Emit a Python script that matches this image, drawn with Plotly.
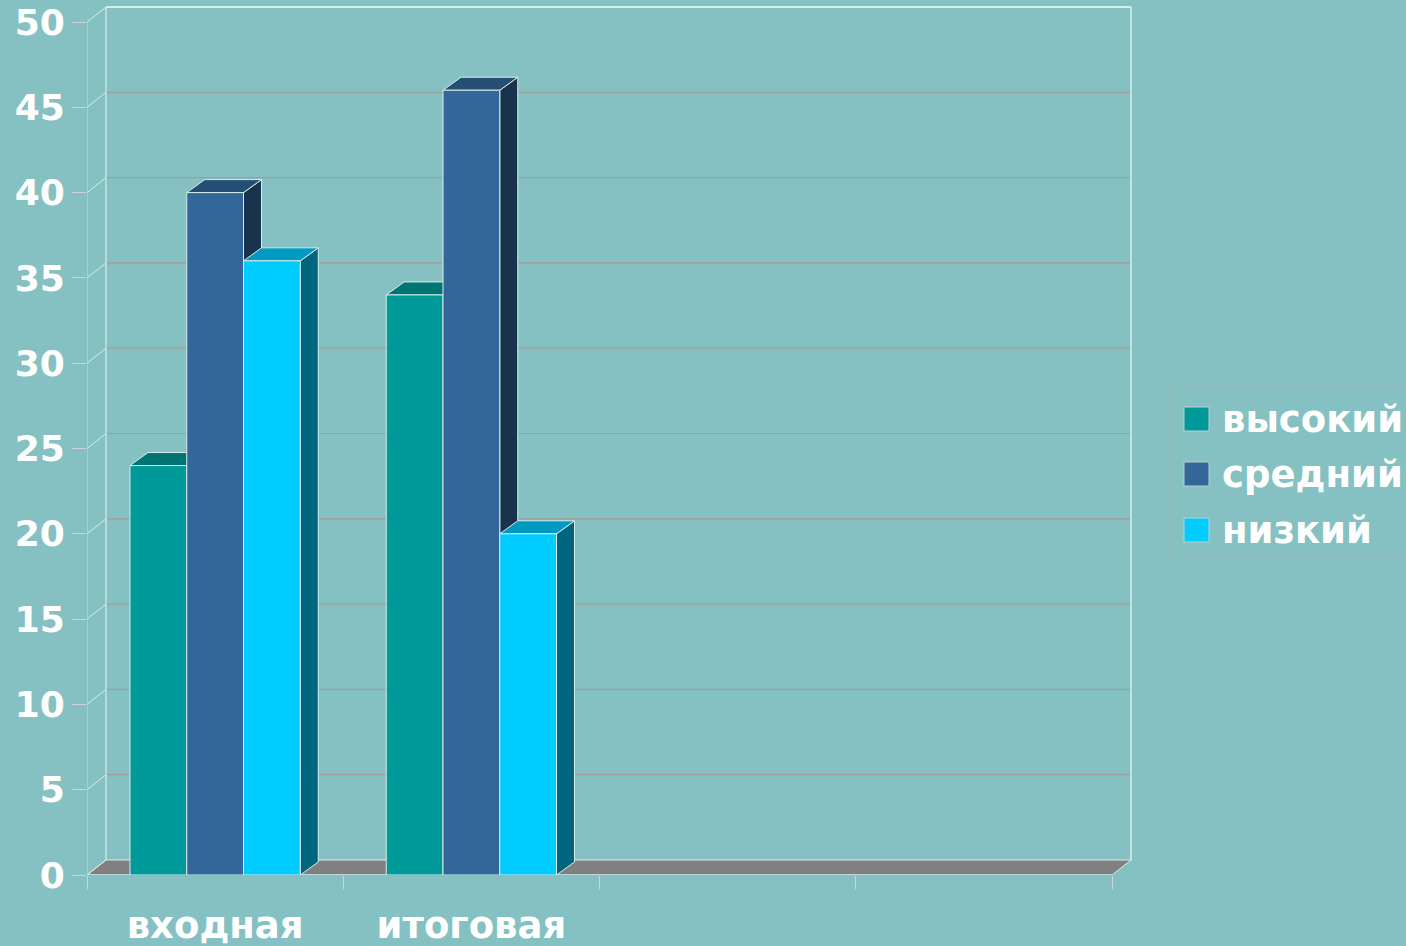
import plotly.graph_objects as go

# ---------------- data ----------------
categories = ["входная", "итоговая"]
series_names = ["высокий", "средний", "низкий"]
vysokiy = [24, 34]
sredniy = [40, 46]
nizkiy = [36, 20]
y_ticks = [0, 5, 10, 15, 20, 25, 30, 35, 40, 45, 50]
n_slots = 4

series_values = [vysokiy, sredniy, nizkiy]
front_colors = ["#009999", "#336699", "#00CCFF"]
top_colors = ["#007373", "#264D73", "#0099BF"]
side_colors = ["#006666", "#1A334D", "#006680"]

# ---------------- geometry ----------------
W, H = 1406, 946
ML, MR, MT, MB = 87, 273, 5, 71
plot_w = W - ML - MR
plot_h = H - MT - MB
px_x = (1112 - 87) / n_slots          # pixels per category slot
px_y = (875 - 22) / 50.0              # pixels per value unit
xmax = plot_w / px_x
ymax = plot_h / px_y

dxw, dyw = 19 / px_x, 15 / px_y       # wall depth
dxb, dyb = 18 / px_x, 13 / px_y       # bar depth
bar_w = 0.2215
group_start = -1.5 * bar_w

BG = "#85C1C3"
EDGE = "#D8ECEC"
GRID = "#9E9E9E"
FONT = "DejaVu Sans"

xpos = [i + 0.5 for i in range(len(categories))]

fig = go.Figure()

for s, (name, vals) in enumerate(zip(series_names, series_values)):
    off = group_start + s * bar_w
    sx, sy, tx, ty = [], [], [], []
    for xc, v in zip(xpos, vals):
        left = xc + off
        right = left + bar_w
        sx += [right, right + dxb, right + dxb, right, right, None]
        sy += [0, dyb, v + dyb, v, 0, None]
        tx += [left, right, right + dxb, left + dxb, left, None]
        ty += [v, v, v + dyb, v + dyb, v, None]
    fig.add_trace(go.Scatter(x=sx, y=sy, fill="toself", mode="lines",
                             fillcolor=side_colors[s],
                             line=dict(color=EDGE, width=1),
                             hoverinfo="skip", showlegend=False, zorder=0))
    fig.add_trace(go.Scatter(x=tx, y=ty, fill="toself", mode="lines",
                             fillcolor=top_colors[s],
                             line=dict(color=EDGE, width=1),
                             hoverinfo="skip", showlegend=False, zorder=1))
    fig.add_trace(go.Bar(x=xpos, y=vals, name=name, width=bar_w, offset=off,
                         marker=dict(color=front_colors[s],
                                     line=dict(color=EDGE, width=1)),
                         showlegend=False, zorder=2))

shapes = []
# floor
shapes.append(dict(type="path", xref="x", yref="y", layer="below",
                   path=f"M 0,0 L {n_slots},0 L {n_slots + dxw},{dyw} L {dxw},{dyw} Z",
                   fillcolor="#808080", line=dict(color=EDGE, width=1)))
# back wall grid lines
for v in y_ticks[1:]:
    shapes.append(dict(type="line", xref="x", yref="y", layer="below",
                       x0=dxw, x1=n_slots + dxw, y0=v + dyw, y1=v + dyw,
                       line=dict(color=GRID if v != y_ticks[-1] else EDGE,
                                 width=1.2 if v != y_ticks[-1] else 2)))
# left wall diagonals
for v in y_ticks:
    shapes.append(dict(type="line", xref="x", yref="y", layer="below",
                       x0=0, x1=dxw, y0=v, y1=v + dyw,
                       line=dict(color=EDGE, width=1)))
# wall verticals
shapes.append(dict(type="line", xref="x", yref="y", layer="below",
                   x0=0, x1=0, y0=0, y1=y_ticks[-1], line=dict(color="#C8D8D8", width=1)))
shapes.append(dict(type="line", xref="x", yref="y", layer="below",
                   x0=dxw, x1=dxw, y0=dyw, y1=y_ticks[-1] + dyw, line=dict(color=EDGE, width=1.2)))
shapes.append(dict(type="line", xref="x", yref="y", layer="below",
                   x0=n_slots + dxw, x1=n_slots + dxw, y0=dyw, y1=y_ticks[-1] + dyw,
                   line=dict(color=EDGE, width=1.5)))
# front bottom edge
shapes.append(dict(type="line", xref="x", yref="y", layer="below",
                   x0=0, x1=n_slots, y0=0, y1=0, line=dict(color=EDGE, width=1)))

# custom legend
def px_to_paper_x(px):
    return (px - ML) / plot_w

def px_to_paper_y(py):
    return 1 - (py - MT) / plot_h

shapes.append(dict(type="rect", xref="paper", yref="paper", layer="above",
                   x0=px_to_paper_x(1171), x1=px_to_paper_x(1440),
                   y0=px_to_paper_y(555), y1=px_to_paper_y(388),
                   line=dict(color="#A8B8B8", width=1.2), fillcolor="rgba(0,0,0,0)"))
annotations = []
legend_y = [419, 474, 530]
for s, name in enumerate(series_names):
    cy = legend_y[s]
    shapes.append(dict(type="rect", xref="paper", yref="paper", layer="above",
                       x0=px_to_paper_x(1184), x1=px_to_paper_x(1209),
                       y0=px_to_paper_y(cy + 12), y1=px_to_paper_y(cy - 12),
                       fillcolor=front_colors[s], line=dict(color="#B8D0D0", width=1)))
    annotations.append(dict(xref="paper", yref="paper", x=px_to_paper_x(1220),
                            y=px_to_paper_y(cy), xanchor="left", yanchor="middle",
                            text=name, showarrow=False,
                            font=dict(family=FONT, size=37, color="white", weight="bold")))

fig.update_layout(
    width=W, height=H, autosize=False,
    margin=dict(l=ML, r=MR, t=MT, b=MB, pad=0, autoexpand=False),
    paper_bgcolor=BG, plot_bgcolor=BG,
    barmode="overlay",
    showlegend=False,
    shapes=shapes, annotations=annotations,
    xaxis=dict(range=[0, xmax], showgrid=False, zeroline=False, showline=False,
               automargin=False,
               tickvals=xpos, ticktext=categories, ticks="",
               ticklabelstandoff=25,
               tickfont=dict(family=FONT, size=37, color="white", weight="bold"),
               minor=dict(tickvals=list(range(n_slots + 1)), ticks="outside",
                          ticklen=13, tickcolor="#C8D8D8", tickwidth=1, showgrid=False),
               fixedrange=True),
    yaxis=dict(range=[0, ymax], showgrid=False, zeroline=False, showline=False,
               automargin=False,
               tickvals=y_ticks, ticks="outside", ticklen=14, tickcolor="#C8D8D8",
               tickwidth=1,
               tickfont=dict(family=FONT, size=36, color="white", weight="bold"),
               fixedrange=True),
)

fig.write_html(
    "out.html",
    config={"displayModeBar": False},
    post_script="document.body.style.margin='0';document.body.style.padding='0';"
                "document.body.style.background='#85C1C3';"
                "document.documentElement.style.background='#85C1C3';",
)
